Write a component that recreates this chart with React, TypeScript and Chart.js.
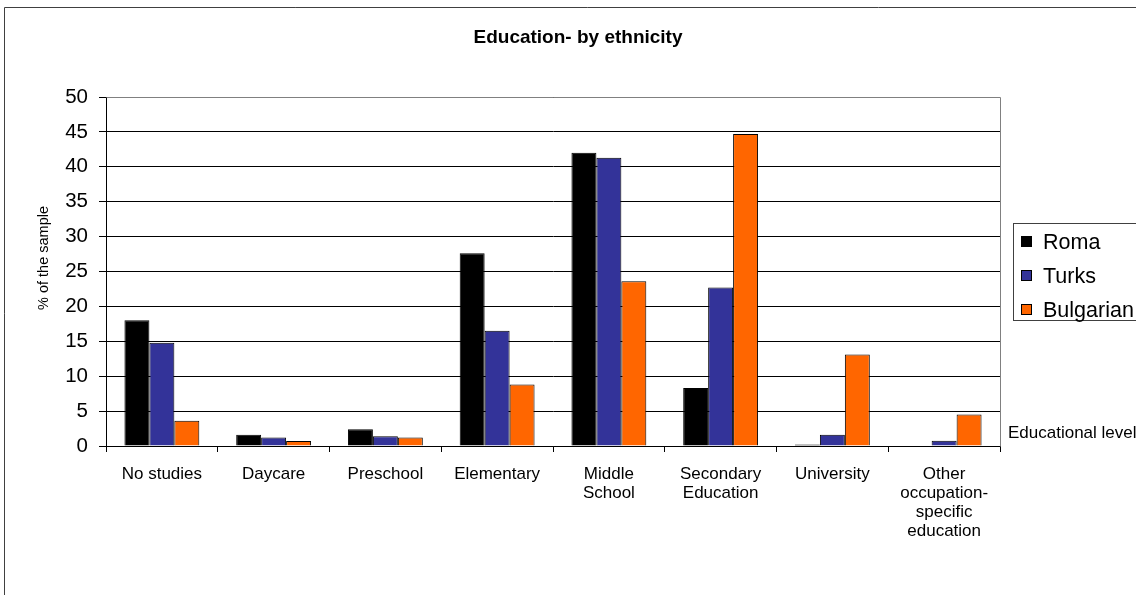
import React, { useEffect, useRef } from 'react';
import { Chart, registerables } from 'chart.js';

Chart.register(...registerables);

const categories: string[][] = [
  ['No studies'],
  ['Daycare'],
  ['Preschool'],
  ['Elementary'],
  ['Middle', 'School'],
  ['Secondary', 'Education'],
  ['University'],
  ['Other', 'occupation-', 'specific', 'education'],
];
const seriesNames = ['Roma', 'Turks', 'Bulgarian'];
const romaValues = [18.0, 1.6, 2.4, 27.6, 42.0, 8.3, 0.2, 0];
const turksValues = [14.8, 1.2, 1.4, 16.5, 41.3, 22.7, 1.6, 0.75];
const bulgarianValues = [3.6, 0.7, 1.2, 8.8, 23.6, 44.7, 13.1, 4.5];
const seriesColors = ['#000000', '#333399', '#FF6600'];
const yMin = 0;
const yMax = 50;
const yStep = 5;
const chartTitle = 'Education- by ethnicity';
const yAxisTitle = '% of the sample';
const xAxisTitle = 'Educational level';

const FONT = '"Liberation Sans", Arial, sans-serif';
const CW = 1170;
const CH = 620;

const decorPlugin = {
  id: 'decor',
  afterDraw(chart: any) {
    const ctx = chart.ctx;
    const area = chart.chartArea;
    ctx.save();
    // outer frame
    ctx.strokeStyle = '#404040';
    ctx.lineWidth = 1;
    ctx.beginPath();
    ctx.moveTo(4.5, CH);
    ctx.lineTo(4.5, 7.5);
    ctx.lineTo(CW, 7.5);
    ctx.stroke();
    // plot area border (top & right)
    ctx.strokeStyle = '#808080';
    ctx.beginPath();
    ctx.moveTo(Math.round(area.left) + 0.5, Math.round(area.top) + 0.5);
    ctx.lineTo(Math.round(area.right) + 0.5, Math.round(area.top) + 0.5);
    ctx.lineTo(Math.round(area.right) + 0.5, Math.round(area.bottom) + 0.5);
    ctx.stroke();
    // title
    ctx.fillStyle = '#000';
    ctx.font = `bold 19px ${FONT}`;
    ctx.textAlign = 'center';
    ctx.textBaseline = 'middle';
    ctx.fillText(chartTitle, 578, 38);
    // y axis title
    ctx.save();
    ctx.translate(44, 258);
    ctx.rotate(-Math.PI / 2);
    ctx.font = `14.5px ${FONT}`;
    ctx.fillText(yAxisTitle, 0, 0);
    ctx.restore();
    // x axis title
    ctx.font = `17px ${FONT}`;
    ctx.textAlign = 'left';
    ctx.fillText(xAxisTitle, 1008, 433);
    // legend
    ctx.strokeStyle = '#404040';
    ctx.strokeRect(1013.5, 223.5, 200, 97);
    ctx.font = `21.5px ${FONT}`;
    const ys = [242, 276, 310];
    chart.data.datasets.forEach((ds: any, i: number) => {
      const cy = ys[i];
      ctx.fillStyle = ds.backgroundColor;
      ctx.fillRect(1021, cy - 6, 11, 11);
      ctx.strokeStyle = '#000';
      ctx.strokeRect(1021.5, cy - 5.5, 10, 10);
      ctx.fillStyle = '#000';
      ctx.fillText(ds.label, 1043, cy + 1);
    });
    ctx.restore();
  },
};

export default function App() {
  const ref = useRef<HTMLCanvasElement | null>(null);
  useEffect(() => {
    if (!ref.current) return;
    const values = [romaValues, turksValues, bulgarianValues];
    const chart = new Chart(ref.current, {
      type: 'bar',
      data: {
        labels: categories,
        datasets: seriesNames.map((name, i) => ({
          label: name,
          data: values[i],
          backgroundColor: seriesColors[i],
          borderColor: '#000000',
          borderWidth: 1,
          categoryPercentage: 0.67,
          barPercentage: 1.0,
        })),
      },
      options: {
        responsive: false,
        animation: false,
        devicePixelRatio: 1,
        layout: { padding: { left: 0, right: CW - 1000, top: 97, bottom: 0 } },
        plugins: {
          legend: { display: false },
          title: { display: false },
          tooltip: { enabled: false },
        },
        scales: {
          x: {
            afterFit: (s: any) => { s.height = CH - 446; },
            grid: {
              display: true,
              drawOnChartArea: false,
              drawTicks: true,
              tickLength: 6,
              color: '#000',
              offset: true,
            },
            border: { color: '#000', width: 1 },
            ticks: {
              color: '#000',
              font: { family: FONT, size: 17, lineHeight: 1.12 },
              padding: 13,
              maxRotation: 0,
              autoSkip: false,
            },
          },
          y: {
            min: yMin,
            max: yMax,
            afterFit: (s: any) => { s.width = 106; },
            grid: {
              color: '#000',
              lineWidth: 1,
              drawTicks: true,
              tickLength: 7,
            },
            border: { color: '#000', width: 1 },
            ticks: {
              stepSize: yStep,
              color: '#000',
              font: { family: FONT, size: 20.5 },
              padding: 11,
            },
          },
        },
      },
      plugins: [decorPlugin],
    });
    return () => chart.destroy();
  }, []);
  return (
    <div style={{ position: 'fixed', left: 0, top: 0, width: 1136, height: 595, overflow: 'hidden', background: '#fff' }}>
      <canvas ref={ref} width={CW} height={CH} style={{ width: CW, height: CH, display: 'block' }} />
    </div>
  );
}
